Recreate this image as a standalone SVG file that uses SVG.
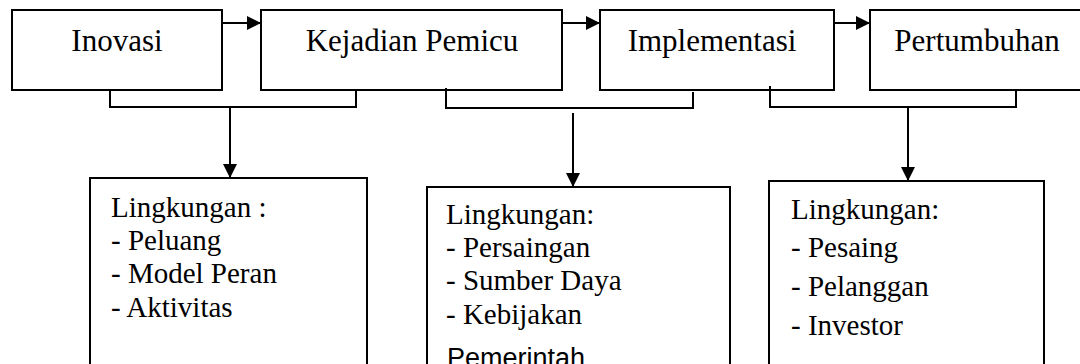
<svg xmlns="http://www.w3.org/2000/svg" width="1080" height="364" viewBox="0 0 1080 364">
<style>
.box{fill:#fff;stroke:#000;stroke-width:2}
.c{fill:none;stroke:#000;stroke-width:2}
</style>
<defs>
<marker id="ah" markerUnits="userSpaceOnUse" markerWidth="15" markerHeight="14" refX="14" refY="7" orient="auto">
<path d="M0,0 L14,7 L0,14 z" fill="#000"/>
</marker>
</defs>
<rect width="1080" height="364" fill="#fff"/>
<g font-family="Liberation Serif, Times New Roman, serif" fill="#000">
<g id="inovasi" font-size="31" text-anchor="middle"><rect class="box" x="12" y="10" width="210" height="80"/><text x="117" y="51">Inovasi</text></g>
<g id="kejadian" font-size="31" text-anchor="middle"><rect class="box" x="261" y="10" width="301" height="80"/><text x="412" y="51">Kejadian Pemicu</text></g>
<g id="implementasi" font-size="31" text-anchor="middle"><rect class="box" x="600" y="10" width="234" height="80"/><text x="712" y="51">Implementasi</text></g>
<g id="pertumbuhan" font-size="31" text-anchor="middle"><rect class="box" x="870" y="10" width="220" height="80"/><text x="977" y="51">Pertumbuhan</text></g>
<g id="env1" font-size="29"><rect class="box" x="90" y="178" width="277" height="200"/>
<text x="111" y="217">Lingkungan :</text>
<text x="111" y="250">- Peluang</text>
<text x="111" y="283">- Model Peran</text>
<text x="111" y="317">- Aktivitas</text></g>
<g id="env2" font-size="29"><rect class="box" x="427" y="187" width="303" height="200"/>
<text x="446" y="224">Lingkungan:</text>
<text x="446" y="257">- Persaingan</text>
<text x="446" y="290">- Sumber Daya</text>
<text x="446" y="324">- Kebijakan</text>
<text x="447" y="367" font-family="Liberation Sans, Arial, sans-serif" font-size="27">Pemerintah</text></g>
<g id="env3" font-size="29"><rect class="box" x="769" y="181" width="275" height="200"/>
<text x="791" y="219">Lingkungan:</text>
<text x="791" y="257">- Pesaing</text>
<text x="791" y="296">- Pelanggan</text>
<text x="791" y="335">- Investor</text></g>
</g>
<g id="connectors">
<line class="c" x1="222" y1="23" x2="261" y2="23" marker-end="url(#ah)"/>
<line class="c" x1="562" y1="23" x2="600" y2="23" marker-end="url(#ah)"/>
<line class="c" x1="834" y1="23" x2="870" y2="23" marker-end="url(#ah)"/>
<polyline class="c" points="110,90 110,107 356,107 356,90"/>
<polyline class="c" points="446,88 446,108 693,108 693,92"/>
<polyline class="c" points="770,86 770,107 1016,107 1016,90"/>
<line class="c" x1="230" y1="107" x2="230" y2="178" marker-end="url(#ah)"/>
<line class="c" x1="573" y1="113" x2="573" y2="187" marker-end="url(#ah)"/>
<line class="c" x1="908" y1="107" x2="908" y2="181" marker-end="url(#ah)"/>
</g>
</svg>
